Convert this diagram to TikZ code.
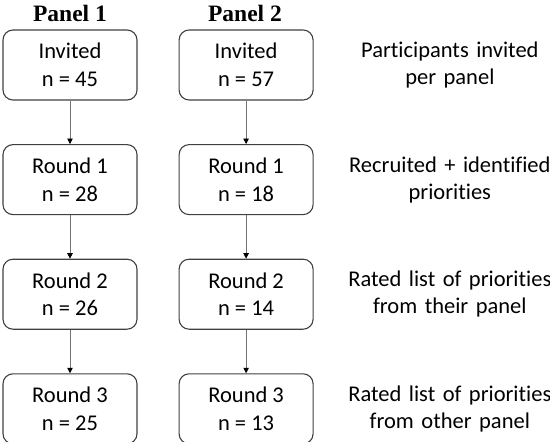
\documentclass[tikz,border=0pt]{standalone}
\usepackage{fontspec}
\setmainfont{Carlito}[Ligatures=NoCommon]
\newfontfamily\titlefont{Liberation Serif}
\usetikzlibrary{arrows.meta,positioning}

\tikzset{
    roundbox/.style = {draw=black!75, line width=1.1pt, rounded corners=10pt,
        minimum width=134pt, minimum height=70pt, align=center,
        font=\fontsize{22.5}{27.5}\selectfont, inner sep=2pt},
    desc/.style = {align=center, text width=210pt,
        font=\fontsize{22.5}{27}\selectfont, inner sep=0pt},
    paneltitle/.style = {font=\titlefont\bfseries\fontsize{23.5}{26}\selectfont, inner sep=0pt},
    flow/.style = {draw=black!55, line width=0.8pt, -{Triangle[length=5.5pt,width=5.5pt,black]}}
}

\begin{document}
\begin{tikzpicture}[x=1pt,y=1pt]
        \useasboundingbox (0,0) rectangle (550,-442);

        % column titles
        \node[paneltitle] (title1) at (70,-13) {Panel 1};
        \node[paneltitle] (title2) at (245,-13) {Panel 2};

        % panel 1
        \node[roundbox] (inv1) at (70,-65) {Invited\\n = 45};
        \node[roundbox, below=43.5pt of inv1] (r1a) {Round 1\\n = 28};
        \node[roundbox, below=43.5pt of r1a] (r2a) {Round 2\\n = 26};
        \node[roundbox, below=43.5pt of r2a] (r3a) {Round 3\\n = 25};

        % panel 2
        \node[roundbox, right=41pt of inv1] (inv2) {Invited\\n = 57};
        \node[roundbox, below=43.5pt of inv2] (r1b) {Round 1\\n = 18};
        \node[roundbox, below=43.5pt of r1b] (r2b) {Round 2\\n = 14};
        \node[roundbox, below=43.5pt of r2b] (r3b) {Round 3\\n = 13};

        % descriptions
        \node[desc, right=31pt of inv2] (d0) {Participants invited\\per panel};
        \node[desc, right=31pt of r1b] (d1) {Recruited + identified\\priorities};
        \node[desc, right=31pt of r2b] (d2) {Rated list of priorities\\from their panel};
        \node[desc, right=31pt of r3b] (d3) {Rated list of priorities\\from other panel};

        % arrows
        \draw[flow] (inv1) -- (r1a);
        \draw[flow] (r1a) -- (r2a);
        \draw[flow] (r2a) -- (r3a);
        \draw[flow] (inv2) -- (r1b);
        \draw[flow] (r1b) -- (r2b);
        \draw[flow] (r2b) -- (r3b);
    \end{tikzpicture}
\end{document}
